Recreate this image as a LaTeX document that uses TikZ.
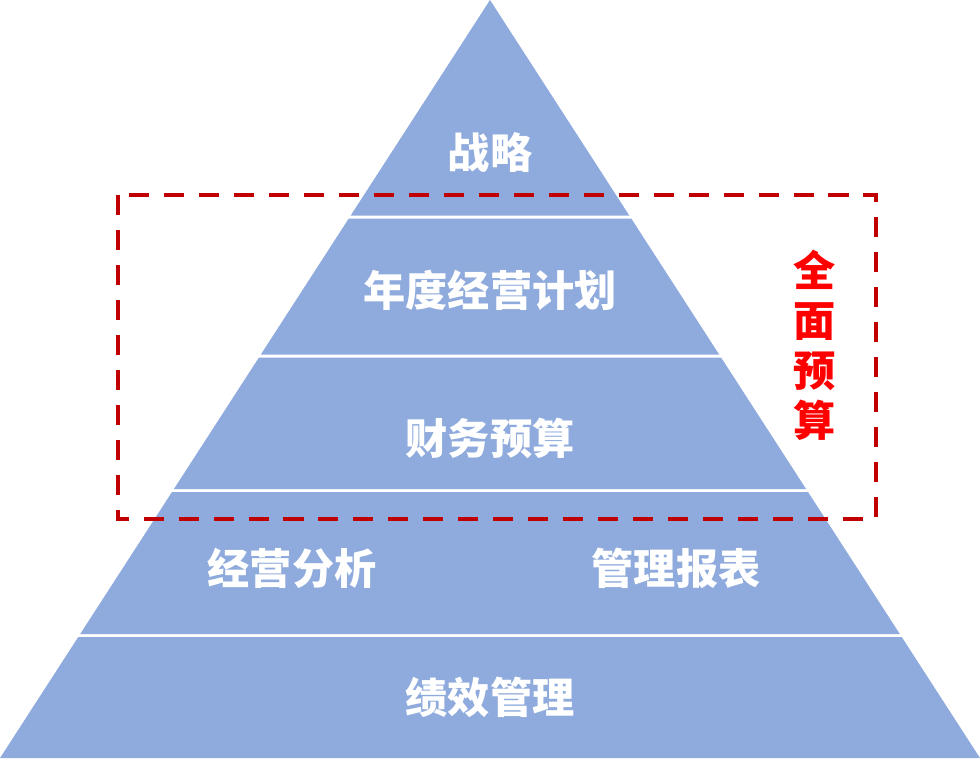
\documentclass[tikz,border=0pt]{standalone}
\usepackage{fontspec}
\newfontfamily\cjk{Noto Sans CJK SC}
\usetikzlibrary{positioning}
\definecolor{Layer}{HTML}{8FAADC}
\definecolor{Frame}{HTML}{C00000}
\definecolor{Alert}{HTML}{FF0000}
\tikzset{
  layer/.style={fill=Layer},
  label/.style={font=\cjk\bfseries\fontsize{24}{28}\selectfont,text=white,inner sep=0pt},
  framebox/.style={draw=Frame,line width=2.8pt,dash pattern=on 11.4pt off 8.5pt},
  sidetext/.style={font=\cjk\bfseries\fontsize{24}{28.5}\selectfont,text=Alert,align=center,inner sep=0pt}
}
\begin{document}
\begin{tikzpicture}[x=0.02cm,y=-0.02cm]
  \useasboundingbox (0,0) rectangle (980,758);
  % pyramid layers, top and bottom edge of each
  \foreach \t/\b in {0/215.5, 218.5/354.5, 357.5/489, 492/634, 637/758}
    \fill[layer] ({490-0.6464*\t},\t) -- ({490+0.6464*\t},\t)
      -- ({490+0.6464*\b},\b) -- ({490-0.6464*\b},\b) -- cycle;
  \node[label] (strategy) at (490,152) {战略};
  \node[label] (plan) at (490,290) {年度经营计划};
  \node[label] (budget) at (490,438) {财务预算};
  \node[label] (analysis) at (292,568) {经营分析};
  \node[label] (report) at (676,568) {管理报表};
  \node[label] (perf) at (490,697) {绩效管理};
  \draw[framebox] (118,195) rectangle (876,519);
  \node[sidetext] (total) at (815,345) {全\\面\\预\\算};
\end{tikzpicture}
\end{document}
